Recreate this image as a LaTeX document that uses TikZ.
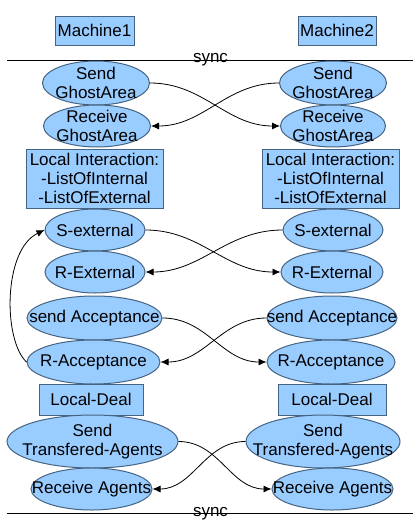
\documentclass[tikz,border=0pt]{standalone}
\usepackage{fontspec}
\setmainfont{Liberation Sans}
\usetikzlibrary{shapes.geometric,arrows.meta}
\definecolor{nodefill}{RGB}{153,204,255}
\definecolor{nodeline}{RGB}{70,100,130}
\tikzset{
    box/.style={draw=nodeline, fill=nodefill, line width=1pt, inner sep=0pt, align=center},
    oval/.style={ellipse, draw=nodeline, fill=nodefill, line width=1pt, inner xsep=-40pt, inner ysep=-15pt, align=center},
    link/.style={-{Latex[length=8pt,width=7pt]}, line width=0.8pt},
    sep/.style={line width=1pt}
}
\begin{document}
\begin{tikzpicture}[x=1pt, y=-1pt, font=\fontsize{17}{19}\selectfont]
                \useasboundingbox (0,0) rectangle (420,520);

                \node[box, minimum width=79, minimum height=29, name=m1] at (94.5,30.5) {Machine1};
                \node[box, minimum width=78, minimum height=29, name=m2] at (337,30.5) {Machine2};

                \draw[sep] (7,60) -- (413,60);
                \node[inner sep=0pt, name=sync1] at (210.5,60) {sync};

                \node[oval, minimum width=107, minimum height=44, name=sg1] at (96,83) {Send\\GhostArea};
                \node[oval, minimum width=107, minimum height=44, name=sg2] at (333,83) {Send\\GhostArea};

                \node[oval, minimum width=107, minimum height=42, name=rg1] at (97,126) {Receive\\GhostArea};
                \node[oval, minimum width=105, minimum height=42, name=rg2] at (333,126) {Receive\\GhostArea};

                \node[box, minimum width=137, minimum height=59, name=li1] at (94.5,178.5) {Local Interaction:\\-ListOfInternal\\-ListOfExternal};
                \node[box, minimum width=137, minimum height=59, name=li2] at (330.5,178.5) {Local Interaction:\\-ListOfInternal\\-ListOfExternal};

                \node[oval, minimum width=100, minimum height=42, name=se1] at (95,230) {S-external};
                \node[oval, minimum width=100, minimum height=42, name=se2] at (333,230) {S-external};

                \node[oval, minimum width=100, minimum height=42, name=re1] at (95,272) {R-External};
                \node[oval, minimum width=102, minimum height=42, name=re2] at (332,272) {R-External};

                \node[oval, minimum width=135, minimum height=44, name=sa1] at (94.5,318) {send Acceptance};
                \node[oval, minimum width=130, minimum height=44, name=sa2] at (332,318) {send Acceptance};

                \node[oval, minimum width=133, minimum height=44, name=ra1] at (93.5,362) {R-Acceptance};
                \node[oval, minimum width=128, minimum height=44, name=ra2] at (331,362) {R-Acceptance};

                \node[box, minimum width=104, minimum height=31, name=ld1] at (91,399.5) {Local-Deal};
                \node[box, minimum width=108, minimum height=31, name=ld2] at (332,399.5) {Local-Deal};

                \node[oval, minimum width=171, minimum height=53, name=st1] at (92.5,441.5) {Send\\Transfered-Agents};
                \node[oval, minimum width=154, minimum height=53, name=st2] at (323,441.5) {Send\\Transfered-Agents};

                \node[oval, minimum width=121, minimum height=42, name=ag1] at (91.5,489) {Receive Agents};
                \node[oval, minimum width=121, minimum height=42, name=ag2] at (332.5,489) {Receive Agents};

                \draw[sep] (7,513) -- (413,513);
                \node[inner sep=0pt, name=sync2] at (210.5,514) {sync};

                \draw[link] (sg1.east) to[out=0, in=180] (rg2.west);
                \draw[link] (sg2.west) to[out=180, in=0] (rg1.east);

                \draw[link] (se1.east) to[out=0, in=180] (re2.west);
                \draw[link] (se2.west) to[out=180, in=0] (re1.east);

                \draw[link] (sa1.east) to[out=0, in=180] (ra2.west);
                \draw[link] (sa2.west) to[out=180, in=0] (ra1.east);

                \draw[link] (st1.east) to[out=0, in=180] (ag2.west);
                \draw[link] (st2.west) to[out=180, in=0] (ag1.east);

                \draw[link] (ra1.west) .. controls (3,340) and (3,250) .. (se1.west);
            \end{tikzpicture}
\end{document}
